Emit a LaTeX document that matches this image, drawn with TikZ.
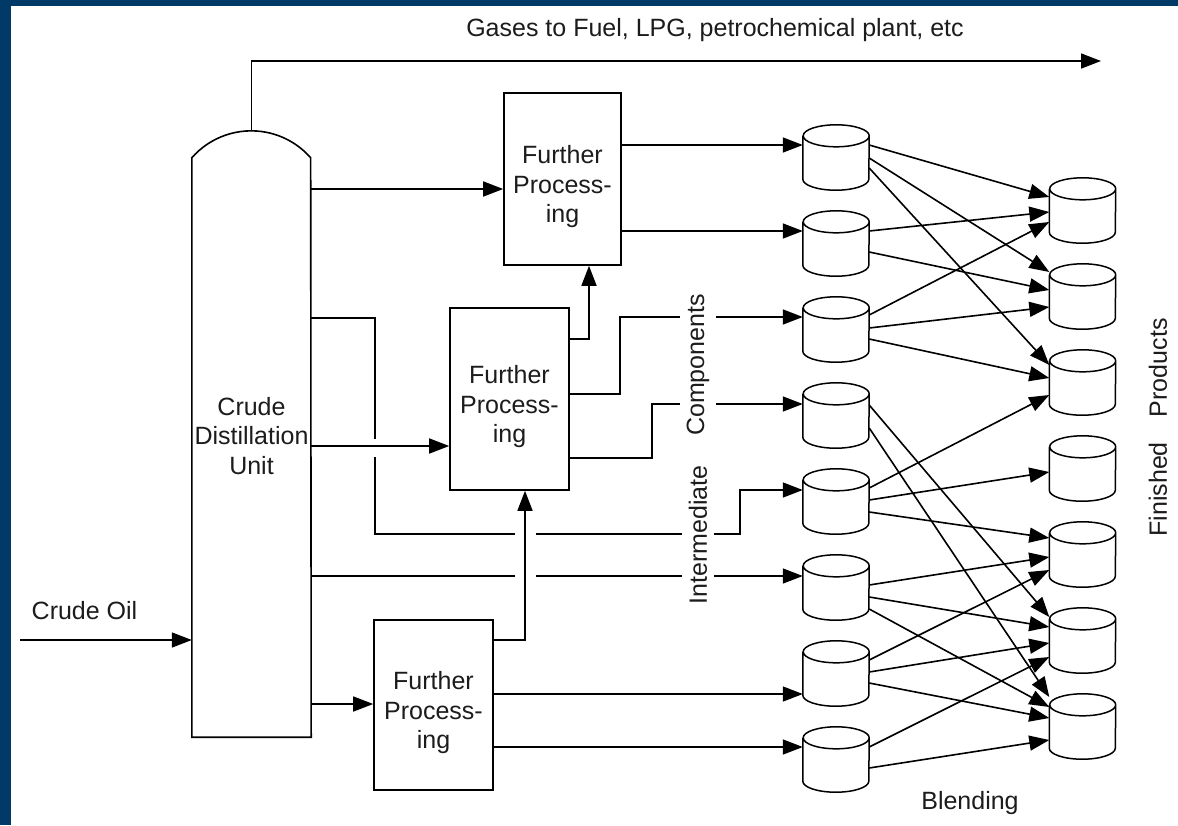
\documentclass[tikz,border=0pt]{standalone}
\usepackage{fontspec}
\setmainfont{Liberation Sans}
\usetikzlibrary{arrows.meta,positioning,calc}
\definecolor{frameblue}{RGB}{1,57,103}
\definecolor{inkgray}{RGB}{28,28,28}
\tikzset{
  flowln/.style={-{Triangle[length=20pt,width=15pt]}, line width=1.6pt},
  plainln/.style={line width=1.6pt},
  colbox/.style={inner sep=0pt, align=center, text=inkgray,
    font=\fontsize{25}{29.5}\selectfont},
  procbox/.style={draw, line width=1.6pt, inner sep=0pt, align=center, text=inkgray,
    font=\fontsize{25}{29.5}\selectfont, text height=93pt},
  tankbox/.style={rectangle, minimum width=66pt, minimum height=65pt, inner sep=0pt},
  tankln/.style={line width=1.5pt, line join=round},
  tag/.style={font=\fontsize{25}{29.5}\selectfont, text=inkgray},
}
% a storage tank: named box, body with lower rim, full upper rim
\newcommand{\tank}[2]{%
  \node[tankbox] (#1) at #2 {};
  \filldraw[tankln, fill=white] ([yshift=-11pt]#1.north west) -- ([yshift=11pt]#1.south west)
    arc[start angle=180, end angle=360, x radius=33pt, y radius=11pt]
    -- ([yshift=-11pt]#1.north east)
    arc[start angle=0, end angle=360, x radius=33pt, y radius=11pt];
}

\begin{document}
\begin{tikzpicture}[x=1pt,y=-1pt]
    % frame
    \fill[frameblue] (0,0) rectangle (1178,825);
    \fill[white] (11,6) rectangle (1178,825);
    \useasboundingbox (0,0) rectangle (1178,825);
    % distillation column with its dome
    \node[colbox, minimum width=119pt, minimum height=579pt, text depth=24pt] (cdu) at (251.5,447.5) {Crude\\Distillation\\Unit};
    \draw[plainln] (cdu.south west) -- (cdu.north west)
      arc[start angle=138.8, end angle=41.2, radius=79pt] -- (cdu.south east) -- cycle;
    \coordinate (dome) at ([yshift=27pt]cdu.north);
    % further processing units
    \node[procbox, minimum width=117pt, minimum height=172pt] (fp1) at (562.5,179) {Further\\Process-\\ing};
    \node[procbox, minimum width=119pt, minimum height=182pt] (fp2) at (509.5,399) {Further\\Process-\\ing};
    \node[procbox, minimum width=119pt, minimum height=170pt] (fp3) at (433.5,705) {Further\\Process-\\ing};
    % blending tanks
    \tank{b1}{(836,157.5)}
    \tank{b2}{(836,243.5)}
    \tank{b3}{(836,329.5)}
    \tank{b4}{(836,415.5)}
    \tank{b5}{(836,501.5)}
    \tank{b6}{(836,587.5)}
    \tank{b7}{(836,673.5)}
    \tank{b8}{(836,759.5)}
    % finished product tanks
    \tank{p1}{(1082.5,210.5)}
    \tank{p2}{(1082.5,296.5)}
    \tank{p3}{(1082.5,382.5)}
    \tank{p4}{(1082.5,468.5)}
    \tank{p5}{(1082.5,554.5)}
    \tank{p6}{(1082.5,640.5)}
    \tank{p7}{(1082.5,726.5)}
    % feed in, gases out over the top
    \coordinate (feed) at (20,640);
    \coordinate (gasend) at (1101,61);
    \draw[flowln] (feed) -- (cdu.west |- feed);
    \draw[flowln] (dome) |- (gasend);
    \node[tag] (crude) at (84.5,611) {Crude Oil};
    \node[tag] (gases) at (715,30) {Gases to Fuel, LPG, petrochemical plant, etc};
    % column draws to the processing units
    \draw[flowln] (cdu.east |- 0,189) -- (fp1.west |- 0,189);
    \draw[flowln] (cdu.east |- 0,446) -- (fp2.west |- 0,446);
    \draw[flowln] (cdu.east |- 0,704) -- (fp3.west |- 0,704);
    % side draw down to the intermediates, broken where it crosses
    \draw[plainln] (cdu.east |- 0,318) -| (375,439);
    \draw[plainln] (375,457) |- (515,534);
    \draw[flowln] (536,534) -| (740,490) -- (b5.west |- 0,490);
    \draw[plainln] (cdu.east |- 0,576) -- (515,576);
    \draw[flowln] (536,576) -- (b6.west |- 0,576);
    % processing outputs
    \draw[flowln] (fp1.east |- 0,145) -- (b1.west |- 0,145);
    \draw[flowln] (fp1.east |- 0,231) -- (b2.west |- 0,231);
    \draw[flowln] (fp2.east |- 0,339) -| (fp1.south -| 589,0);
    \draw[flowln] (fp2.east |- 0,394) -| (620,317) -- (b3.west |- 0,317);
    \draw[flowln] (fp2.east |- 0,458) -| (652,404) -- (b4.west |- 0,404);
    \draw[flowln] (fp3.east |- 0,640) -| (fp2.south -| 525,0);
    \draw[flowln] (fp3.east |- 0,694) -- (b7.west |- 0,694);
    \draw[flowln] (fp3.east |- 0,747) -- (b8.west |- 0,747);
    % stream labels sit on the lines
    \node[tag, rotate=90, fill=white, inner xsep=3pt, inner ysep=7pt] (comp) at (698,365) {Components};
    \node[tag, rotate=90, fill=white, inner xsep=3pt, inner ysep=7pt] (inter) at (698,535) {Intermediate};
    % blending into finished products
    \draw[flowln] (b1.east |- 0,145) -- (p1.west |- 0,197);
    \draw[flowln] (b1.east |- 0,158) -- (p2.west |- 0,272);
    \draw[flowln] (b1.east |- 0,168) -- (p3.west |- 0,365);
    \draw[flowln] (b2.east |- 0,231) -- (p1.west |- 0,212);
    \draw[flowln] (b2.east |- 0,252) -- (p2.west |- 0,290);
    \draw[flowln] (b3.east |- 0,315) -- (p1.west |- 0,222);
    \draw[flowln] (b3.east |- 0,328) -- (p2.west |- 0,307);
    \draw[flowln] (b3.east |- 0,339) -- (p3.west |- 0,378);
    \draw[flowln] (b4.east |- 0,405) -- (p6.west |- 0,617);
    \draw[flowln] (b4.east |- 0,428) -- (p7.west |- 0,697);
    \draw[flowln] (b5.east |- 0,488) -- (p3.west |- 0,395);
    \draw[flowln] (b5.east |- 0,500) -- (p4.west |- 0,472);
    \draw[flowln] (b5.east |- 0,512) -- (p5.west |- 0,538);
    \draw[flowln] (b6.east |- 0,585) -- (p5.west |- 0,557);
    \draw[flowln] (b6.east |- 0,597) -- (p6.west |- 0,627);
    \draw[flowln] (b6.east |- 0,609) -- (p7.west |- 0,707);
    \draw[flowln] (b7.east |- 0,660) -- (p5.west |- 0,570);
    \draw[flowln] (b7.east |- 0,672) -- (p6.west |- 0,643);
    \draw[flowln] (b7.east |- 0,683) -- (p7.west |- 0,718);
    \draw[flowln] (b8.east |- 0,747) -- (p6.west |- 0,657);
    \draw[flowln] (b8.east |- 0,768) -- (p7.west |- 0,740);
    \node[tag] (blend) at (970,803) {Blending};
    \node[tag, rotate=90] (fin) at (1158,427.5) {Finished\hspace{25pt}Products};
  \end{tikzpicture}
\end{document}
